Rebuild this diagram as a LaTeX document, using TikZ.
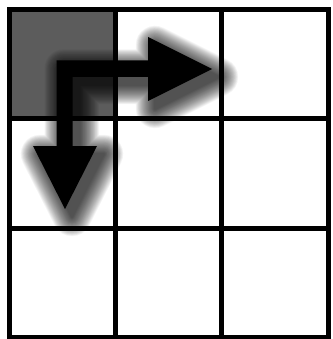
\documentclass[tikz,border=0pt]{standalone}
\definecolor{cellgray}{RGB}{92,92,92}
\tikzset{
  gridline/.style={line width=5pt, draw=black, line cap=rect},
  bigarrow/.style={fill=black, draw=none},
  shadowlayer/.style={fill=black, draw=black, line join=round},
}
\def\arrowpath{(56.7,60.5) -- (148,60.5) -- (148,37) -- (212,69) -- (148,101) -- (148,77)
     -- (72.7,77) -- (72.7,146) -- (97,146) -- (65,209) -- (33,146) -- (56.7,146) -- cycle}
\begin{document}
\begin{tikzpicture}[x=1pt,y=-1pt]
  \useasboundingbox (0,0) rectangle (332,339);
  \fill[white] (0,0) rectangle (332,339);
  % shaded start cell
  \fill[cellgray] (9.5,10) rectangle (115,119);
  % grid
  \foreach \gx in {9.5,115,221.5,328.5}
    \draw[gridline] (\gx,10) -- (\gx,337);
  \foreach \gy in {10,119,228,337}
    \draw[gridline] (9.5,\gy) -- (328.5,\gy);
  % soft shadow of the arrow
  \foreach \i in {24,23,...,1}{
    \begin{scope}[shift={(7,8)}, transparency group, opacity=0.042]
      \path[shadowlayer, line width=1.6*\i pt] \arrowpath;
    \end{scope}
  }
  % L-shaped double arrow
  \path[bigarrow] \arrowpath;
\end{tikzpicture}
\end{document}
